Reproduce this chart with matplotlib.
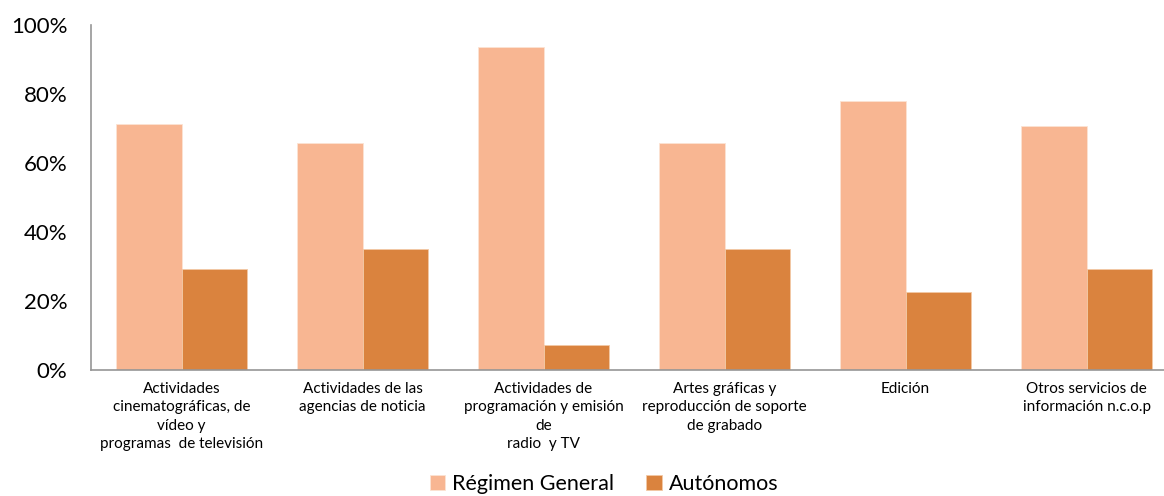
import numpy as np
import matplotlib
matplotlib.use('Agg')
from matplotlib import pyplot as plt
from matplotlib.ticker import PercentFormatter

plt.rcParams['font.family'] = ['Lato', 'DejaVu Sans']

# datos
categorias = ['Actividades\ncinematográficas, de\nvídeo y\nprogramas  de televisión',
              'Actividades de las\nagencias de noticia',
              'Actividades de\nprogramación y emisión\nde\nradio  y TV',
              'Artes gráficas y\nreproducción de soporte\nde grabado',
              'Edición',
              'Otros servicios de\ninformación n.c.o.p']
regimen_general = [71.1, 65.6, 93.5, 65.6, 77.8, 70.6]
autonomos = [29.3, 34.9, 7.0, 34.9, 22.6, 29.3]
series = ['Régimen General', 'Autónomos']

col_rg = '#F8B692'
col_au = '#DA833E'

fig = plt.figure(figsize=(11.64, 4.96), dpi=100)
ax = fig.add_axes([0.0782, 0.255, 0.933, 0.695])

x = np.arange(len(categorias))
w = 0.36
ax.bar(x - w/2, regimen_general, w, color=col_rg, edgecolor='#FCE3D3', linewidth=0.6, label=series[0])
ax.bar(x + w/2, autonomos, w, color=col_au, edgecolor='#F3C9A6', linewidth=0.6, label=series[1])

ax.set_xlim(-0.5, len(categorias) - 0.5)
ax.set_ylim(0, 100)
ax.set_yticks([0, 20, 40, 60, 80, 100])
ax.yaxis.set_major_formatter(PercentFormatter(decimals=0))
ax.tick_params(axis='y', length=0, labelsize=16, pad=17)
ax.tick_params(axis='x', length=0, labelsize=11, pad=9)
ax.set_xticks(x)
ax.set_xticklabels(categorias, linespacing=1.4)

for s in ['top', 'right']:
    ax.spines[s].set_visible(False)
for s in ['left', 'bottom']:
    ax.spines[s].set_color('#969696')
    ax.spines[s].set_linewidth(1.2)

h, l = ax.get_legend_handles_labels()
fig.legend(h, l, loc='center', bbox_to_anchor=(0.519, 0.024), ncol=2, frameon=False,
           fontsize=15.5, handlelength=0.7, handleheight=0.7, handletextpad=0.35,
           columnspacing=1.5)

fig.savefig('out.png', dpi=100)
